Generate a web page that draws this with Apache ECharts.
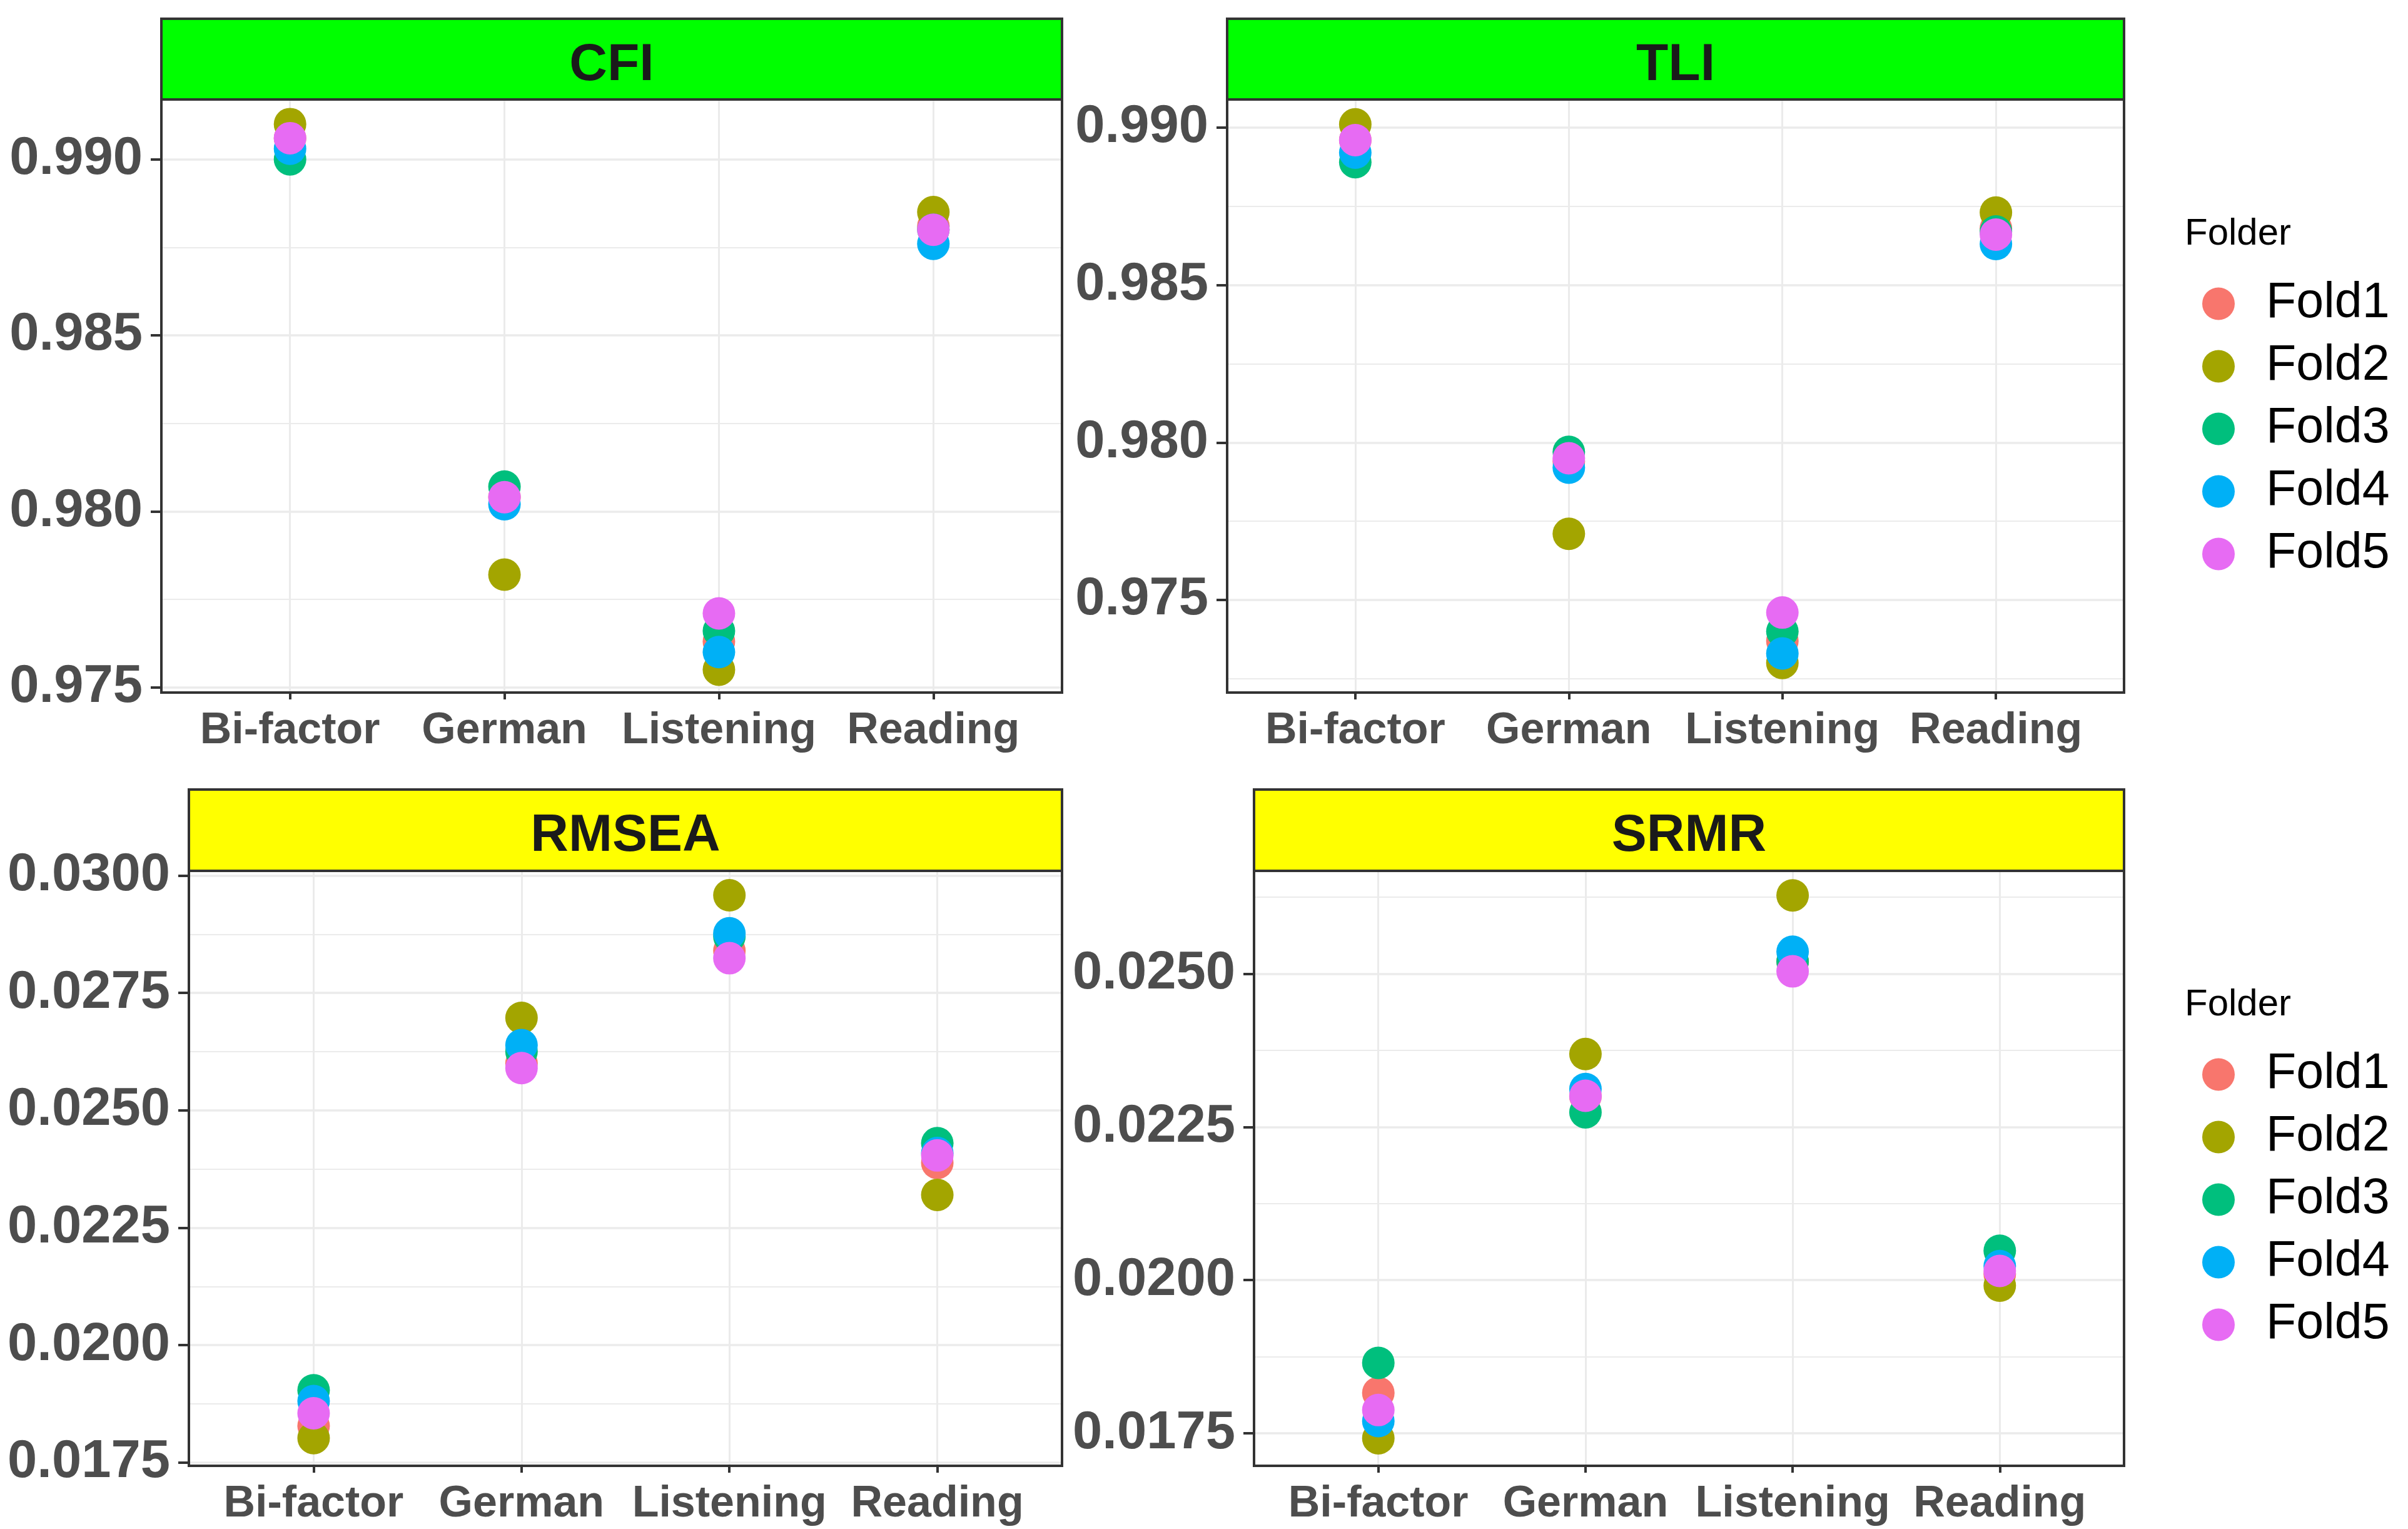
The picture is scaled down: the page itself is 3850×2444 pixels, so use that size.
<!DOCTYPE html>
<html>
<head>
<meta charset="utf-8">
<script src="https://cdn.jsdelivr.net/npm/echarts@6/dist/echarts.min.js"></script>
<style>
  html, body { margin: 0; padding: 0; background: #ffffff; }
  #chart { width: 3850px; height: 2444px; }
</style>
</head>
<body>
<div id="chart"></div>
<script>
// ---------------- DATA ----------------
const categories = ['Bi-factor', 'German', 'Listening', 'Reading'];
const folds = ['Fold1', 'Fold2', 'Fold3', 'Fold4', 'Fold5'];

// CFI (values per category: Bi-factor, German, Listening, Reading)
const cfiFold1 = [0.9906, 0.9804, 0.9763, 0.9881];
const cfiFold2 = [0.9910, 0.9782, 0.9755, 0.9885];
const cfiFold3 = [0.9900, 0.9807, 0.9766, 0.9880];
const cfiFold4 = [0.9903, 0.9802, 0.9760, 0.9876];
const cfiFold5 = [0.9906, 0.9804, 0.9771, 0.9880];

// TLI
const tliFold1 = [0.9896, 0.9794, 0.9737, 0.9868];
const tliFold2 = [0.9901, 0.9771, 0.9730, 0.9873];
const tliFold3 = [0.9889, 0.9797, 0.9740, 0.9867];
const tliFold4 = [0.9892, 0.9792, 0.9733, 0.9863];
const tliFold5 = [0.9896, 0.9795, 0.9746, 0.9866];

// RMSEA
const rmseaFold1 = [0.01828, 0.02600, 0.02840, 0.02388];
const rmseaFold2 = [0.01802, 0.02697, 0.02958, 0.02320];
const rmseaFold3 = [0.01904, 0.02625, 0.02870, 0.02430];
const rmseaFold4 = [0.01881, 0.02639, 0.02877, 0.02409];
const rmseaFold5 = [0.01855, 0.02590, 0.02824, 0.02404];

// SRMR
const srmrFold1 = [0.01816, 0.02300, 0.02520, 0.02010];
const srmrFold2 = [0.01742, 0.02369, 0.02628, 0.01991];
const srmrFold3 = [0.01865, 0.02274, 0.02520, 0.02048];
const srmrFold4 = [0.01770, 0.02312, 0.02536, 0.02023];
const srmrFold5 = [0.01788, 0.02301, 0.02504, 0.02015];

// Tick labels (major breaks)
const cfiTicks = [0.975, 0.980, 0.985, 0.990];
const tliTicks = [0.975, 0.980, 0.985, 0.990];
const rmseaTicks = [0.0175, 0.0200, 0.0225, 0.0250, 0.0275, 0.0300];
const srmrTicks = [0.0175, 0.0200, 0.0225, 0.0250];

// ---------------- STYLE / LAYOUT ----------------
const foldColors = ['#F8766D', '#A3A500', '#00BF7D', '#00B0F6', '#E76BF3'];
const FONT = '"Liberation Sans", Arial, Helvetica, sans-serif';
const gridLineColor = '#EBEBEB';
const borderColor = '#333333';

const panels = [
  { title: 'CFI', strip: '#00FF00', data: [cfiFold1, cfiFold2, cfiFold3, cfiFold4, cfiFold5],
    ticks: cfiTicks, min: 0.97485, max: 0.99170, dec: 3,
    box: { left: 258, top: 159, width: 1440, height: 948 }, stripTop: 30 },
  { title: 'TLI', strip: '#00FF00', data: [tliFold1, tliFold2, tliFold3, tliFold4, tliFold5],
    ticks: tliTicks, min: 0.97206, max: 0.99089, dec: 3,
    box: { left: 1962, top: 159, width: 1434, height: 948 }, stripTop: 30 },
  { title: 'RMSEA', strip: '#FFFF00', data: [rmseaFold1, rmseaFold2, rmseaFold3, rmseaFold4, rmseaFold5],
    ticks: rmseaTicks, min: 0.01743, max: 0.03010, dec: 4,
    box: { left: 302, top: 1392, width: 1396, height: 951 }, stripTop: 1262 },
  { title: 'SRMR', strip: '#FFFF00', data: [srmrFold1, srmrFold2, srmrFold3, srmrFold4, srmrFold5],
    ticks: srmrTicks, min: 0.01697, max: 0.02668, dec: 4,
    box: { left: 2005, top: 1392, width: 1391, height: 951 }, stripTop: 1262 }
];

function minorBreaks(ticks, min, max) {
  const step = ticks[1] - ticks[0];
  const out = [];
  const all = [ticks[0] - step].concat(ticks, [ticks[ticks.length - 1] + step]);
  for (let i = 0; i < all.length - 1; i++) {
    const m = (all[i] + all[i + 1]) / 2;
    if (m > min && m < max) out.push(m);
  }
  return out;
}

const catPos = categories.map((c, k) => k + 1);

const grids = [], xAxes = [], yAxes = [], series = [], graphics = [];

panels.forEach((p, i) => {
  grids.push({ left: p.box.left, top: p.box.top, width: p.box.width, height: p.box.height,
               containLabel: false, show: false });

  xAxes.push({
    gridIndex: i, type: 'value', min: 0.4, max: 4.6,
    axisLine: { show: false },
    axisTick: { show: true, length: 11, customValues: catPos,
                lineStyle: { color: borderColor, width: 4 } },
    axisLabel: { show: true, customValues: catPos, margin: 27,
                 formatter: v => categories[Math.round(v) - 1] || '',
                 fontSize: 70, fontWeight: 'bold', color: '#4D4D4D', fontFamily: FONT },
    splitLine: { show: true, lineStyle: { color: gridLineColor, width: 3 } }
  });

  // main y axis (major)
  yAxes.push({
    gridIndex: i, type: 'value', min: p.min, max: p.max, scale: true,
    axisLine: { show: false },
    axisTick: { show: true, length: 17, customValues: p.ticks,
                lineStyle: { color: borderColor, width: 4 } },
    axisLabel: { show: true, customValues: p.ticks, margin: 30,
                 formatter: v => Number(v).toFixed(p.dec),
                 fontSize: 85, fontWeight: 'bold', color: '#4D4D4D', fontFamily: FONT },
    splitLine: { show: true, lineStyle: { color: gridLineColor, width: 3.5 } }
  });
  // minor grid axis
  const minors = minorBreaks(p.ticks, p.min, p.max);
  yAxes.push({
    gridIndex: i, type: 'value', min: p.min, max: p.max, scale: true,
    axisLine: { show: false },
    axisTick: { show: false, customValues: minors },
    axisLabel: { show: false, customValues: minors },
    splitLine: { show: true, lineStyle: { color: gridLineColor, width: 2.2 } }
  });

  folds.forEach((f, j) => {
    series.push({
      type: 'scatter', name: f, xAxisIndex: i, yAxisIndex: i * 2,
      data: categories.map((c, k) => [k + 1, p.data[j][k]]),
      symbol: 'circle', symbolSize: 52,
      itemStyle: { color: foldColors[j], opacity: 1 },
      emphasis: { disabled: true }, z: 3 + j * 0.01
    });
  });

  // strip
  graphics.push({
    type: 'rect', z: 100,
    shape: { x: p.box.left, y: p.stripTop, width: p.box.width, height: p.box.top - p.stripTop },
    style: { fill: p.strip, stroke: borderColor, lineWidth: 4 }
  });
  graphics.push({
    type: 'text', z: 101,
    style: { text: p.title, x: p.box.left + p.box.width / 2, y: (p.stripTop + p.box.top) / 2 + 10,
             align: 'center', verticalAlign: 'middle',
             font: 'bold 84px ' + FONT, fill: '#1A1A1A' }
  });
  // panel border
  graphics.push({
    type: 'rect', z: 100,
    shape: { x: p.box.left, y: p.box.top, width: p.box.width, height: p.box.height },
    style: { fill: 'none', stroke: borderColor, lineWidth: 4 }
  });
});

// legend titles
[374, 374 + 1232].forEach(y => {
  graphics.push({
    type: 'text', z: 101,
    style: { text: 'Folder', x: 3493, y: y, align: 'left', verticalAlign: 'middle',
             font: '60px ' + FONT, fill: '#000000' }
  });
});

const legendBase = {
  orient: 'vertical', left: 3516, itemWidth: 52, itemHeight: 52, itemGap: 21,
  icon: 'circle', data: folds, selectedMode: false,
  textStyle: { fontSize: 79, color: '#000000', fontFamily: FONT,
               padding: [0, 0, 0, 45] }
};

const option = {
  animation: false,
  backgroundColor: '#ffffff',
  grid: grids,
  xAxis: xAxes,
  yAxis: yAxes,
  series: series,
  legend: [
    Object.assign({}, legendBase, { top: 441 }),
    Object.assign({}, legendBase, { top: 441 + 1232 })
  ],
  graphic: { elements: graphics }
};

const chart = echarts.init(document.getElementById('chart'), null, { renderer: 'canvas' });
chart.setOption(option);
</script>
</body>
</html>
